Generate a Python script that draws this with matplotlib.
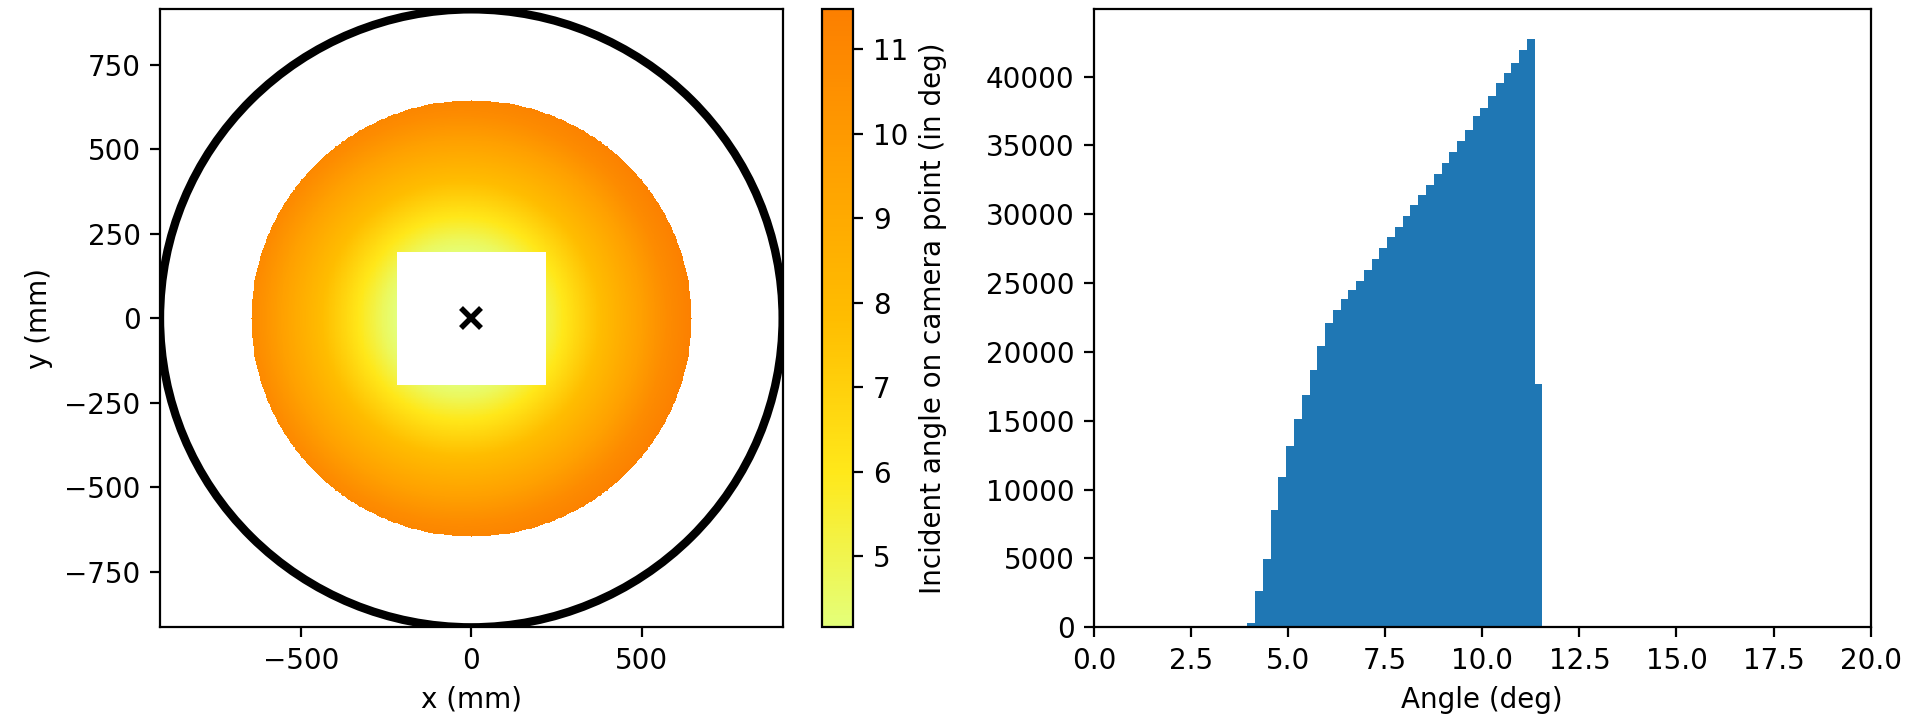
import numpy as np
import matplotlib
matplotlib.use("Agg")
import matplotlib.pyplot as plt
from matplotlib.patches import Circle

# camera plane geometry (mm)
FOV_RADIUS = 914.0        # outer field-of-view circle
SPOT_RADIUS = 645.0       # illuminated disk
HOLE_HALF_X = 220.0       # central obstruction (rectangular)
HOLE_HALF_Y = 197.0
FIELD_CX = -30.0          # centre of the incidence pattern
GRID_STEP = 2.5

# incident angle (deg) vs distance from pattern centre (mm)
prof_r = [190, 230, 300, 400, 500, 600, 680]
prof_angle = [4.16, 4.7, 6.0, 7.7, 9.2, 10.7, 11.47]
ANGLE_MIN, ANGLE_MAX = 4.156, 11.474

# histogram of incident angles
hist_lo = 3.95
hist_width = 0.2
hist_counts = [350, 2650, 4940, 8490, 10900, 13170, 15130, 16900, 18680, 20450,
               22070, 23060, 23830, 24480, 25180, 25950, 26750, 27570, 28370, 29040,
               29870, 30640, 31430, 32100, 32930, 33720, 34550, 35330, 36150, 37120,
               37740, 38570, 39550, 40230, 41000, 41940, 42740, 17700]

plt.rcParams["font.size"] = 10

fig = plt.figure(figsize=(19.07 / 2, 7.19 / 2), dpi=200)
ax = fig.add_axes([0.0839, 0.1275, 0.3265, 0.8595])
cax = fig.add_axes([0.4312, 0.1275, 0.0163, 0.8595])
ax2 = fig.add_axes([0.5737, 0.1275, 0.4072, 0.8595])

# --- angle map on the camera plane
xs = np.arange(-SPOT_RADIUS, SPOT_RADIUS + GRID_STEP, GRID_STEP)
X, Y = np.meshgrid(xs, xs)
ang = np.interp(np.hypot(X - FIELD_CX, Y), prof_r, prof_angle)
outside = (np.hypot(X, Y) > SPOT_RADIUS) | ((np.abs(X) < HOLE_HALF_X) & (np.abs(Y) < HOLE_HALF_Y))
ang = np.ma.masked_where(outside, ang)
half = GRID_STEP / 2
im = ax.imshow(ang, origin="lower", cmap="Wistia", vmin=ANGLE_MIN, vmax=ANGLE_MAX,
               extent=[xs[0] - half, xs[-1] + half, xs[0] - half, xs[-1] + half],
               interpolation="nearest", aspect="auto")
ax.add_patch(Circle((0, 0), FOV_RADIUS, fill=False, color="k", lw=3))
ax.plot(0, 0, "kx", ms=7, mew=2)
ax.set_xlim(-FOV_RADIUS, FOV_RADIUS)
ax.set_ylim(-FOV_RADIUS, FOV_RADIUS)
ax.set_xticks([-500, 0, 500])
ax.set_yticks([-750, -500, -250, 0, 250, 500, 750])
ax.set_xlabel("x (mm)")
ax.set_ylabel("y (mm)")
cb = fig.colorbar(im, cax=cax)
cb.set_label("Incident angle on camera point (in deg)")

# --- histogram
edges = hist_lo + hist_width * np.arange(len(hist_counts) + 1)
ax2.hist(edges[:-1], bins=edges, weights=hist_counts, color="#1f77b4")
ax2.set_xlim(0, 20)
ax2.set_xticks(np.arange(0, 20.1, 2.5))
ax2.set_xlabel("Angle (deg)")

fig.savefig("out.png", dpi=200)
